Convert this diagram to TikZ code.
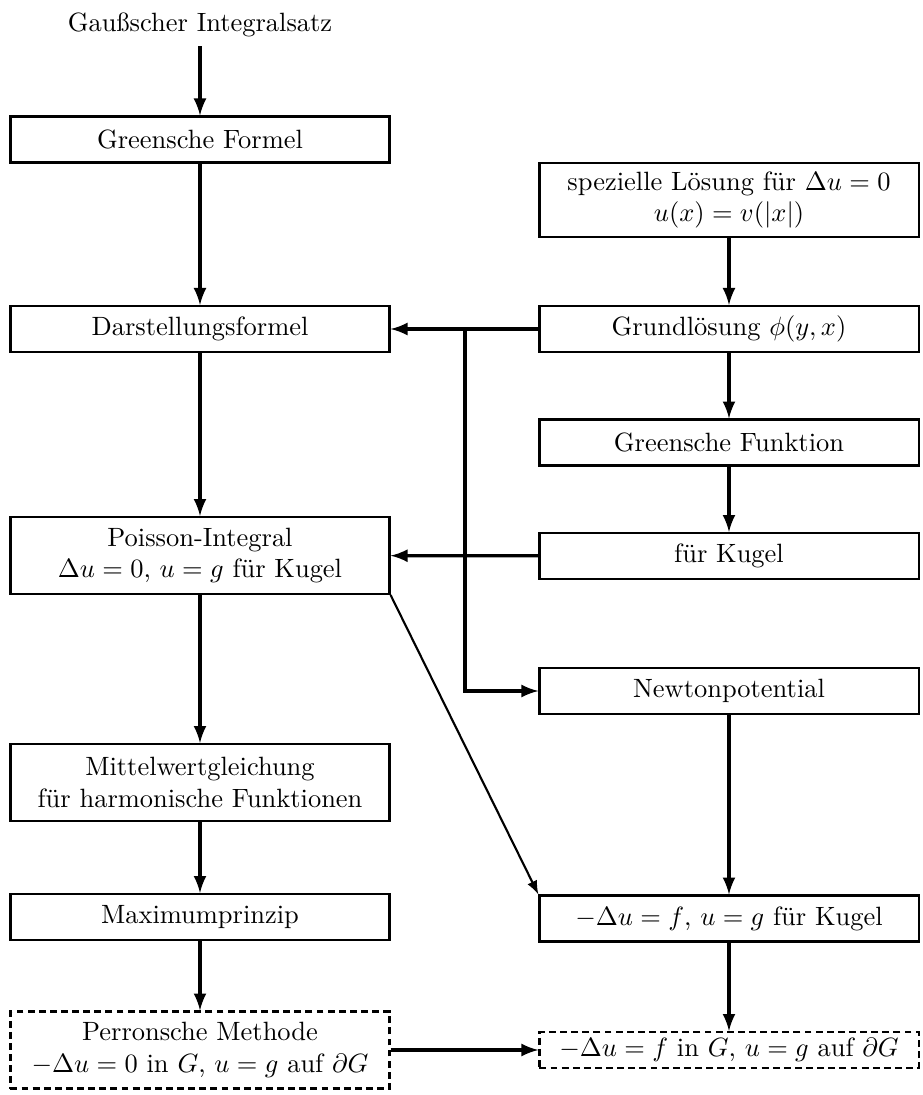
\documentclass[tikz,border=0pt]{standalone}
\usepackage{amsmath, amssymb}
\usepackage{tikz}

\begin{document}
\begin{tikzpicture}[
        x=0.378pt, y=-0.378pt,
        box/.style={rectangle, draw, line width=0.8pt, minimum width=143.3pt, minimum height=17.4pt, inner sep=2pt, align=center},
        dbox/.style={box, dash pattern=on 2.6pt off 1.6pt},
        arr/.style={->, line width=1.2pt},
        >=latex
    ]
    \useasboundingbox (0,0) rectangle (922,1095);

    % left column
    \node (gauss) at (200,25) {Gau\ss{}scher Integralsatz};
    \node[box] (greenform) at (200,139.5) {Greensche Formel};
    \node[box] (darst) at (200,329) {Darstellungsformel};
    \node[box, minimum height=29.1pt] (poisson) at (200,555.5) {Poisson-Integral\\ $\Delta u=0$, $u=g$ f\"ur Kugel};
    \node[box, minimum height=29.1pt] (mittel) at (200,782.5) {Mittelwertgleichung\\ f\"ur harmonische Funktionen};
    \node[box] (maxp) at (200,917) {Maximumprinzip};
    \node[dbox, minimum height=29.1pt] (perron) at (200,1050) {Perronsche Methode\\ $-\Delta u=0$ in $G$, $u=g$ auf $\partial G$};

    % right column
    \node[box, minimum height=28.3pt] (spez) at (729,200) {spezielle L\"osung f\"ur $\Delta u=0$\\ $u(x)=v(|x|)$};
    \node[box] (grund) at (729,329) {Grundl\"osung $\phi(y,x)$};
    \node[box] (greenfkt) at (729,442.5) {Greensche Funktion};
    \node[box] (kugel) at (729,556) {f\"ur Kugel};
    \node[box] (newton) at (729,691) {Newtonpotential};
    \node[box] (minusk) at (729,918.5) {$-\Delta u=f$, $u=g$ f\"ur Kugel};
    \node[dbox, minimum height=13.6pt] (minusg) at (729,1050) {$-\Delta u=f$ in $G$, $u=g$ auf $\partial G$};

    \coordinate (split) at (465,329);
    \coordinate (knee) at (465,691);

    % arrows
    \draw[arr] (gauss) -- (greenform);
    \draw[arr] (greenform) -- (darst);
    \draw[arr] (darst) -- (poisson);
    \draw[arr] (poisson) -- (mittel);
    \draw[arr] (mittel) -- (maxp);
    \draw[arr] (maxp) -- (perron);

    \draw[arr] (spez) -- (grund);
    \draw[arr] (grund) -- (greenfkt);
    \draw[arr] (greenfkt) -- (kugel);
    \draw[arr] (newton) -- (minusk);
    \draw[arr] (minusk) -- (minusg);

    \draw[arr] (grund) -- (darst);
    \draw[arr] (split) -- (knee) -- (newton);
    \draw[arr] (kugel) -- (poisson);
    \draw[->, line width=0.8pt] (poisson.south east) -- (minusk.north west);
    \draw[arr] (perron) -- (minusg);

\end{tikzpicture}
\end{document}
